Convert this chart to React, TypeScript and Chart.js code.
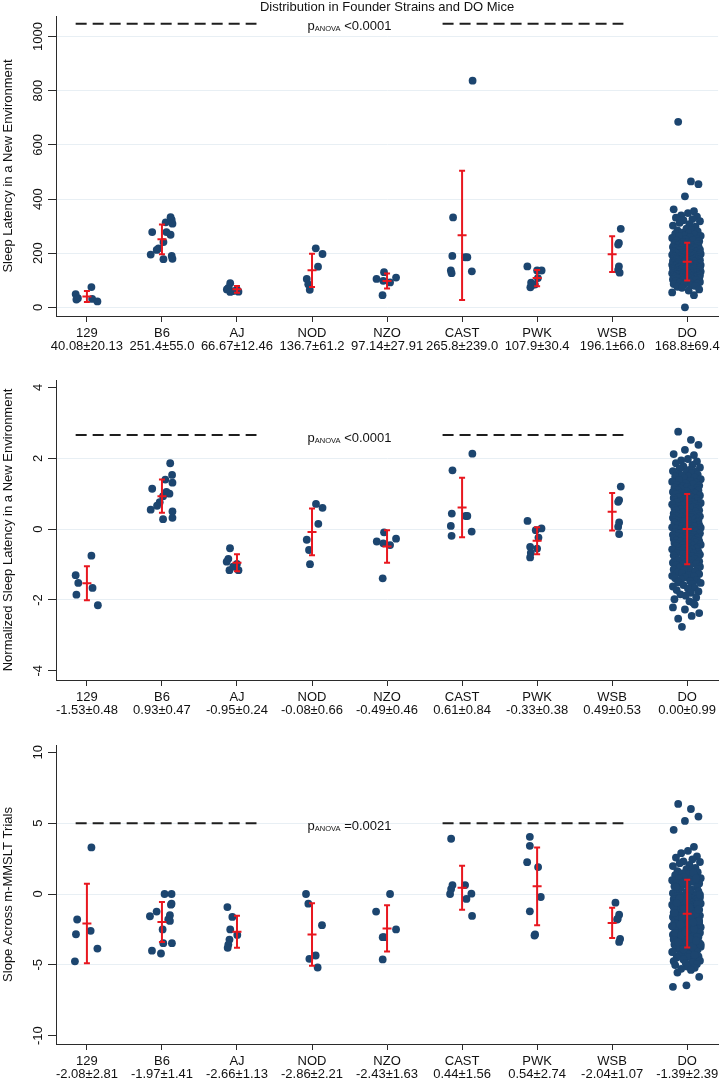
import React, { useEffect, useRef } from 'react';
import { Chart, registerables } from 'chart.js';
Chart.register(...registerables);

const FONT = '"Liberation Sans", Arial, sans-serif';
const NAVY = '#1c456f';
const RED = '#e8171f';
const INK = '#111111';
const AXIS = '#2b2b2b';
const GRID = '#e8eff4';

const STRAINS = ['129', 'B6', 'AJ', 'NOD', 'NZO', 'CAST', 'PWK', 'WSB', 'DO'];
const TITLE = 'Distribution in Founder Strains and DO Mice';

// ---------- summary statistics (mean ± SD) ----------
const LAT_STATS = ['40.08±20.13', '251.4±55.0', '66.67±12.46', '136.7±61.2', '97.14±27.91', '265.8±239.0', '107.9±30.4', '196.1±66.0', '168.8±69.4'];
const LAT_MEAN = [40.08, 251.4, 66.67, 136.7, 97.14, 265.8, 107.9, 196.1, 168.8];
const LAT_SD = [20.13, 55.0, 12.46, 61.2, 27.91, 239.0, 30.4, 66.0, 69.4];

const NORM_STATS = ['-1.53±0.48', '0.93±0.47', '-0.95±0.24', '-0.08±0.66', '-0.49±0.46', '0.61±0.84', '-0.33±0.38', '0.49±0.53', '0.00±0.99'];
const NORM_MEAN = [-1.53, 0.93, -0.95, -0.08, -0.49, 0.61, -0.33, 0.49, 0.0];
const NORM_SD = [0.48, 0.47, 0.24, 0.66, 0.46, 0.84, 0.38, 0.53, 0.99];

const SLOPE_STATS = ['-2.08±2.81', '-1.97±1.41', '-2.66±1.13', '-2.86±2.21', '-2.43±1.63', '0.44±1.56', '0.54±2.74', '-2.04±1.07', '-1.39±2.39'];
const SLOPE_MEAN = [-2.08, -1.97, -2.66, -2.86, -2.43, 0.44, 0.54, -2.04, -1.39];
const SLOPE_SD = [2.81, 1.41, 1.13, 2.21, 1.63, 1.56, 2.74, 1.07, 2.39];

// ---------- axis ticks ----------
const LAT_TICKS = [0, 200, 400, 600, 800, 1000];
const NORM_TICKS = [-4, -2, 0, 2, 4];
const SLOPE_TICKS = [-10, -5, 0, 5, 10];

// ---------- DO mice (jitter offsets shared) ----------
const DO_JITTER = [
  -0.12, 0.05, 0.15, -0.03, -0.18, 0.09, 0.01, -0.08, 0.13, -0.15, 0.07, -0.05, 0.17, -0.10, 0.03, -0.19, 0.11, -0.01, 0.06, -0.13,
  0.14, -0.07, 0.02, -0.16, 0.10, -0.04, 0.18, -0.11, 0.04, -0.20, 0.12, -0.02, 0.08, -0.14, 0.16, -0.06, 0.00, -0.17, 0.13, -0.09,
  0.05, -0.13, 0.15, -0.01, -0.19, 0.09, -0.08, 0.11, -0.15, 0.03, 0.17, -0.05, -0.11, 0.07, -0.18, 0.12, -0.03, 0.01, -0.16, 0.14,
  -0.10, 0.06, -0.14, 0.18, -0.02, 0.10, -0.20, 0.04, -0.07, 0.15, -0.12, 0.02, 0.08, -0.17, 0.13, -0.04, -0.09, 0.16, -0.15, 0.00,
  0.11, -0.06, 0.03, -0.18, 0.14, -0.11, 0.07, -0.01, -0.14, 0.17, 0.05, -0.08, -0.19, 0.12, -0.03, 0.09, -0.16, 0.01, 0.15, -0.12,
  -0.05, 0.13, -0.17, 0.08, 0.02, -0.10, 0.16, -0.13, 0.04, -0.07, 0.10, -0.20, 0.18, -0.02, -0.15, 0.06, -0.09, 0.14, -0.04, 0.11,
  0.00, -0.16, 0.12, -0.06, 0.17, -0.11, 0.03, -0.19, 0.09, -0.01, -0.13, 0.15, 0.05, -0.08, 0.13, -0.18, 0.07, -0.03, 0.10, -0.14,
  0.16, -0.09, -0.02, 0.11, -0.17, 0.04, -0.12, 0.18, -0.06, 0.08, -0.15, 0.01, 0.14, -0.10, -0.04, 0.12, -0.20, 0.06, -0.07, 0.02,
  -0.11, 0.15, 0.03, -0.14, 0.09, -0.05, 0.17, -0.18, 0.07, -0.02, 0.13, -0.16, 0.00, 0.10, -0.08, 0.05, -0.13, 0.16, -0.01, -0.19,
  0.08, 0.12, -0.06, -0.15, 0.03, 0.17, -0.10, -0.01, 0.14, -0.18, -0.04, 0.06, 0.11, -0.13, -0.07, 0.16, 0.02, -0.20, 0.09, -0.03,
  -0.16, -0.08, 0.13, 0.04, -0.12, 0.18, 0.07, -0.05, -0.19, 0.10, 0.01, -0.14, 0.15, 0.05, -0.09, -0.02, 0.12, -0.17, 0.03, 0.08,
  0.10, -0.19, -0.03, 0.16, 0.06, -0.12, -0.07, 0.13, 0.00, -0.15, 0.17, 0.09, -0.06, -0.11, 0.04, 0.14, -0.18, -0.01, 0.11, -0.08,
  -0.02, 0.15, -0.14, -0.09, 0.12, 0.02, -0.17, 0.07, 0.18, -0.05, -0.12, 0.10, -0.20, 0.05, 0.16, -0.07, 0.01, 0.13, -0.15, 0.09,
  0.13, -0.04, 0.06, -0.18, -0.10, 0.15, 0.03, -0.13, 0.09, 0.17, -0.08, -0.01, 0.11, -0.16, 0.07, -0.11, 0.18, -0.06, 0.02, -0.14,
];

const DO_LAT = [
  685, 465, 455, 410, 362, 355, 348, 340, 335, 331, 326, 322, 318, 312, 307, 302, 298, 291, 286, 284,
  280, 276, 274, 271, 268, 265, 264, 262, 259, 256, 253, 251, 248, 246, 244, 241, 239, 236, 234, 232,
  230, 228, 226, 224, 223, 221, 220, 218, 217, 215, 213, 212, 210, 209, 207, 206, 205, 204, 203, 201,
  200, 199, 198, 197, 196, 195, 194, 193, 192, 191, 190, 189, 188, 187, 186, 186, 185, 184, 183, 182,
  181, 180, 180, 179, 178, 177, 176, 176, 175, 174, 173, 172, 171, 171, 170, 169, 168, 168, 167, 166,
  165, 164, 164, 163, 162, 161, 161, 160, 159, 158, 158, 157, 156, 155, 155, 154, 153, 152, 152, 151,
  150, 150, 149, 148, 147, 147, 146, 145, 145, 144, 143, 143, 142, 141, 141, 140, 139, 139, 138, 137,
  137, 136, 135, 135, 134, 133, 133, 132, 131, 131, 130, 129, 129, 128, 127, 127, 126, 125, 124, 124,
  123, 122, 121, 121, 120, 119, 118, 117, 116, 115, 114, 113, 112, 111, 110, 109, 108, 106, 104, 103,
  102, 100, 99, 98, 96, 94, 92, 90, 88, 86, 84, 82, 79, 76, 72, 66, 62, 55, 45, 0,
];

const DO_NORM = [
  2.75, 2.52, 2.38, 2.24, 2.12, 2.09, 1.98, 1.94, 1.91, 1.86, 1.81, 1.77, 1.74, 1.71, 1.67, 1.64, 1.62, 1.6, 1.58, 1.55,
  1.54, 1.52, 1.49, 1.48, 1.45, 1.43, 1.41, 1.38, 1.36, 1.34, 1.31, 1.29, 1.27, 1.25, 1.23, 1.21, 1.19, 1.17, 1.16, 1.14,
  1.12, 1.1, 1.09, 1.07, 1.05, 1.03, 1.02, 1.0, 0.98, 0.96, 0.95, 0.93, 0.91, 0.89, 0.88, 0.86, 0.85, 0.83, 0.82, 0.8,
  0.79, 0.77, 0.76, 0.74, 0.73, 0.71, 0.7, 0.68, 0.66, 0.65, 0.64, 0.62, 0.61, 0.59, 0.58, 0.56, 0.55, 0.53, 0.52, 0.5,
  0.49, 0.47, 0.46, 0.44, 0.43, 0.41, 0.4, 0.39, 0.37, 0.36, 0.34, 0.33, 0.32, 0.3, 0.29, 0.27, 0.26, 0.25, 0.23, 0.22,
  0.21, 0.19, 0.18, 0.16, 0.15, 0.14, 0.12, 0.11, 0.09, 0.08, 0.07, 0.05, 0.04, 0.02, 0.01, 0.0, -0.01, -0.03, -0.04, -0.05,
  -0.07, -0.08, -0.09, -0.11, -0.12, -0.13, -0.15, -0.16, -0.17, -0.19, -0.2, -0.22, -0.23, -0.24, -0.26, -0.27, -0.28, -0.3, -0.31, -0.32,
  -0.34, -0.35, -0.37, -0.38, -0.39, -0.41, -0.42, -0.44, -0.45, -0.47, -0.48, -0.5, -0.51, -0.53, -0.54, -0.55, -0.57, -0.58, -0.6, -0.61,
  -0.63, -0.64, -0.66, -0.68, -0.69, -0.71, -0.72, -0.74, -0.76, -0.77, -0.79, -0.81, -0.82, -0.84, -0.86, -0.88, -0.89, -0.91, -0.93, -0.95,
  -0.97, -0.98, -1.0, -1.02, -1.04, -1.06, -1.08, -1.1, -1.12, -1.14, -1.16, -1.18, -1.2, -1.22, -1.25, -1.27, -1.29, -1.32, -1.34, -1.36,
  -1.39, -1.41, -1.44, -1.47, -1.5, -1.52, -1.55, -1.58, -1.62, -1.65, -1.68, -1.72, -1.76, -1.8, -1.84, -1.88, -1.93, -1.98, -2.04, -2.08,
  -2.13, -2.21, -2.27, -2.37, -2.45, -2.53, -2.76,
];

const DO_SLOPE = [
  6.36, 6.0, 5.47, 5.16, 4.53, 3.33, 3.05, 2.88, 2.65, 2.57, 2.45, 2.31, 2.26, 2.18, 2.05, 1.97, 1.85, 1.75, 1.67, 1.62,
  1.54, 1.46, 1.38, 1.33, 1.28, 1.19, 1.12, 1.08, 1.02, 0.97, 0.94, 0.92, 0.85, 0.78, 0.74, 0.67, 0.63, 0.55, 0.48, 0.41,
  0.32, 0.29, 0.18, 0.15, 0.06, -0.02, -0.11, -0.14, -0.18, -0.19, -0.24, -0.28, -0.29, -0.33, -0.36, -0.39, -0.42, -0.45, -0.48, -0.52,
  -0.55, -0.59, -0.61, -0.67, -0.7, -0.73, -0.75, -0.81, -0.83, -0.86, -0.88, -0.94, -0.97, -1.02, -1.03, -1.04, -1.08, -1.12, -1.15, -1.18,
  -1.21, -1.26, -1.27, -1.31, -1.35, -1.37, -1.43, -1.45, -1.48, -1.52, -1.58, -1.58, -1.62, -1.63, -1.67, -1.69, -1.74, -1.79, -1.82, -1.85,
  -1.87, -1.91, -1.96, -1.98, -2.01, -2.04, -2.05, -2.11, -2.16, -2.18, -2.23, -2.28, -2.34, -2.36, -2.39, -2.42, -2.47, -2.52, -2.54, -2.58,
  -2.61, -2.62, -2.66, -2.71, -2.73, -2.79, -2.82, -2.87, -2.92, -2.95, -2.99, -3.02, -3.06, -3.12, -3.15, -3.21, -3.25, -3.28, -3.31, -3.36,
  -3.44, -3.48, -3.49, -3.54, -3.57, -3.63, -3.68, -3.72, -3.77, -3.81, -3.83, -3.85, -3.91, -3.94, -3.97, -4.05, -4.09, -4.18, -4.22, -4.27,
  -4.36, -4.4, -4.44, -4.49, -4.58, -4.62, -4.71, -4.74, -4.83, -4.88, -4.95, -5.02, -5.12, -5.21, -5.28, -5.36, -5.55, -5.85, -6.45, -6.55,
  1.5, 1.1, 0.8, 0.5, 0.2, -0.05, -0.3, -0.5, -0.7, -0.9, -1.05, -1.2, -1.4, -1.55, -1.7, -1.9, -2.08, -2.25, -2.45, -2.6,
  -2.75, -2.9, -3.05, -3.2, -3.4, -3.55, -3.7, -3.9, -4.1, -4.3, -0.15, -0.62, -1.1, -1.6, -2.15, -2.7, -3.3, -1.33, -0.95, -2.0,
];

// ---------- founder strains: values and jitter offsets ----------
const LAT_VALUES = [
  [75, 49, 34, 31, 29, 22],
  [333, 323, 314, 309, 278, 278, 268, 241, 218, 212, 195, 178, 190, 179],
  [89, 72, 66, 57, 60, 58, 65],
  [218, 197, 150, 105, 85, 65],
  [130, 105, 98, 92, 110, 45],
  [837, 332, 190, 185, 185, 136, 126, 133],
  [151, 136, 136, 91, 74, 83, 84, 108],
  [290, 238, 232, 151, 138, 128],
  DO_LAT,
];
const LAT_JITTER = [
  [0.06, -0.15, -0.12, 0.07, -0.14, 0.14],
  [0.115, 0.13, 0.05, 0.14, -0.13, 0.06, 0.115, 0.02, -0.045, -0.07, -0.15, 0.02, 0.13, 0.14],
  [-0.09, -0.115, -0.135, -0.09, -0.05, 0.02, 0.0],
  [0.05, 0.14, 0.08, -0.07, -0.05, -0.03],
  [-0.04, -0.14, -0.05, 0.04, 0.12, -0.06],
  [0.14, -0.12, -0.13, 0.04, 0.07, -0.15, -0.14, 0.13],
  [-0.13, 0.0, 0.06, -0.08, -0.09, -0.06, -0.03, 0.01],
  [0.115, 0.09, 0.08, 0.09, 0.08, 0.1],
  DO_JITTER,
];

const NORM_VALUES = [
  [-0.75, -1.3, -1.52, -1.66, -1.85, -2.15],
  [1.86, 1.53, 1.4, 1.31, 1.14, 1.05, 1.0, 0.93, 0.76, 0.66, 0.55, 0.28, 0.5, 0.32],
  [-0.54, -0.84, -0.92, -1.16, -1.06, -1.16, -0.98],
  [0.71, 0.6, 0.15, -0.3, -0.59, -0.99],
  [-0.09, -0.35, -0.4, -0.45, -0.27, -1.39],
  [2.13, 1.66, 0.44, 0.37, 0.37, 0.09, -0.19, -0.07],
  [0.23, -0.03, 0.02, -0.24, -0.5, -0.67, -0.8, -0.55],
  [1.2, 0.82, 0.77, 0.19, 0.07, -0.14],
  DO_NORM,
];
const NORM_JITTER = [
  [0.06, -0.15, -0.115, 0.075, -0.14, 0.146],
  [0.11, 0.135, 0.045, 0.14, -0.13, 0.06, 0.1, 0.015, -0.03, -0.065, -0.15, 0.015, 0.14, 0.14],
  [-0.093, -0.115, -0.137, -0.1, -0.05, 0.02, 0.0],
  [0.053, 0.14, 0.084, -0.07, -0.04, -0.027],
  [-0.04, -0.137, -0.05, 0.04, 0.12, -0.058],
  [0.137, -0.128, -0.137, 0.049, 0.07, -0.15, -0.14, 0.128],
  [-0.128, -0.018, 0.058, 0.018, -0.093, -0.084, -0.093, 0.0],
  [0.115, 0.093, 0.08, 0.093, 0.08, 0.093],
  DO_JITTER,
];

const SLOPE_VALUES = [
  [3.29, -1.8, -2.84, -2.6, -3.85, -4.75],
  [0, 0, -0.68, -0.75, -1.24, -1.57, -1.5, -1.8, -1.9, -2.5, -3.47, -3.47, -4.0, -4.2],
  [-0.92, -1.62, -2.89, -3.22, -3.57, -3.8, -2.5],
  [0, -0.68, -2.2, -4.34, -4.58, -5.19],
  [0, -1.24, -2.5, -3.05, -3.05, -4.62],
  [3.9, 0.63, 0.35, 0, 0.63, 0.02, -0.35, -1.55],
  [4.04, 3.4, 2.25, 1.9, -0.21, -1.22, -2.86, -2.93],
  [-0.61, -1.46, -1.74, -1.8, -3.17, -3.38],
  DO_SLOPE,
];
const SLOPE_JITTER = [
  [0.06, -0.13, -0.146, 0.05, 0.14, -0.16],
  [0.035, 0.128, 0.128, 0.12, -0.071, -0.16, 0.106, 0.084, 0.106, 0.009, 0.018, 0.133, -0.133, -0.013],
  [-0.128, -0.062, 0.004, -0.1, -0.115, -0.124, -0.09],
  [-0.08, -0.049, 0.133, 0.049, -0.035, 0.075],
  [0.04, -0.146, 0.12, -0.058, -0.04, -0.058],
  [-0.146, -0.128, -0.146, -0.16, 0.04, 0.124, 0.058, 0.133],
  [-0.097, -0.097, -0.133, 0.013, 0.049, -0.097, -0.027, -0.035],
  [0.044, 0.093, 0.075, 0.066, 0.106, 0.093],
  DO_JITTER,
];

// dashed reference segments (category units) and p-value placement
const DASH_LEFT = [-0.15, 2.26];
const DASH_RIGHT = [4.74, 7.15];
const P_X = 3.5;

type Spec = {
  height: number;
  padTop: number;
  xAxisH: number;
  yMin: number;
  yMax: number;
  yTicks: number[];
  gridHidden: number[];
  yTitle: string;
  values: number[][];
  jitter: number[][];
  means: number[];
  sds: number[];
  stats: string[];
  dashY: number;
  pText: string;
  title?: string;
};

function Panel({ spec }: { spec: Spec }) {
  const ref = useRef<HTMLCanvasElement | null>(null);
  useEffect(() => {
    const canvas = ref.current;
    if (!canvas) return;
    const points = spec.values.flatMap((arr, i) => arr.map((v, k) => ({ x: i + spec.jitter[i][k], y: v })));

    const overlay = {
      id: 'overlay',
      afterDraw(chart: any) {
        const ctx: CanvasRenderingContext2D = chart.ctx;
        const xs = chart.scales.x;
        const ys = chart.scales.y;
        const area = chart.chartArea;
        ctx.save();
        // error bars (mean ± SD)
        ctx.strokeStyle = RED;
        ctx.lineWidth = 2;
        ctx.lineCap = 'butt';
        spec.means.forEach((m, i) => {
          const px = xs.getPixelForValue(i);
          const lo = ys.getPixelForValue(m - spec.sds[i]);
          const hi = ys.getPixelForValue(m + spec.sds[i]);
          const pm = ys.getPixelForValue(m);
          ctx.beginPath();
          ctx.moveTo(px, lo);
          ctx.lineTo(px, hi);
          ctx.moveTo(px - 3, lo);
          ctx.lineTo(px + 3, lo);
          ctx.moveTo(px - 3, hi);
          ctx.lineTo(px + 3, hi);
          ctx.moveTo(px - 4.5, pm);
          ctx.lineTo(px + 4.5, pm);
          ctx.stroke();
        });

        ctx.fillStyle = INK;
        // p-value text
        const big = `13px ${FONT}`;
        const small = `7.5px ${FONT}`;
        const rest = ' ' + spec.pText;
        ctx.font = big;
        const wp = ctx.measureText('p').width;
        const wr = ctx.measureText(rest).width;
        ctx.font = small;
        const wa = ctx.measureText('ANOVA').width;
        let tx = xs.getPixelForValue(P_X) - (wp + wa + wr) / 2;
        const base = ys.getPixelForValue(spec.dashY) + 6.5;
        ctx.textAlign = 'left';
        ctx.textBaseline = 'alphabetic';
        ctx.font = big;
        ctx.fillText('p', tx, base);
        tx += wp;
        ctx.font = small;
        ctx.fillText('ANOVA', tx, base + 1);
        tx += wa;
        ctx.font = big;
        ctx.fillText(rest, tx, base);

        // x labels
        ctx.textAlign = 'center';
        STRAINS.forEach((s, i) => {
          const px = xs.getPixelForValue(i);
          ctx.fillText(s, px, area.bottom + 20.5);
          ctx.fillText(spec.stats[i], px, area.bottom + 33.5);
        });

        // y tick labels (rotated)
        spec.yTicks.forEach((v) => {
          ctx.save();
          ctx.translate(42, ys.getPixelForValue(v));
          ctx.rotate(-Math.PI / 2);
          ctx.textAlign = 'center';
          ctx.fillText(String(v), 0, 0);
          ctx.restore();
        });

        // y title
        ctx.save();
        ctx.translate(11.5, (area.top + area.bottom) / 2);
        ctx.rotate(-Math.PI / 2);
        ctx.textAlign = 'center';
        ctx.fillText(spec.yTitle, 0, 0);
        ctx.restore();

        if (spec.title) {
          ctx.textAlign = 'center';
          ctx.fillText(spec.title, (area.left + area.right) / 2, 11);
        }
        ctx.restore();
      },
    };

    const dashDs = (seg: number[]) => ({
      type: 'line' as const,
      data: [
        { x: seg[0], y: spec.dashY },
        { x: seg[1], y: spec.dashY },
      ],
      borderColor: '#1e1e1e',
      borderWidth: 2,
      borderDash: [11, 6],
      pointRadius: 0,
      showLine: true,
      fill: false,
    });

    const chart = new Chart(canvas, {
      type: 'scatter',
      data: {
        datasets: [
          {
            type: 'scatter',
            data: points,
            pointRadius: 3.9,
            pointBackgroundColor: NAVY,
            pointBorderColor: NAVY,
            pointBorderWidth: 0,
            pointHoverRadius: 3.9,
          } as any,
          dashDs(DASH_LEFT) as any,
          dashDs(DASH_RIGHT) as any,
        ],
      },
      options: {
        animation: false,
        responsive: false,
        devicePixelRatio: 1,
        events: [],
        layout: { padding: { top: spec.padTop, left: 0, right: 2, bottom: 0 } },
        plugins: { legend: { display: false }, tooltip: { enabled: false }, title: { display: false } },
        scales: {
          x: {
            type: 'linear',
            min: -0.412,
            max: 8.412,
            afterBuildTicks: (s: any) => {
              s.ticks = STRAINS.map((_, i) => ({ value: i }));
            },
            afterFit: (s: any) => {
              s.height = spec.xAxisH;
            },
            ticks: { display: false },
            grid: { drawOnChartArea: false, drawTicks: true, tickLength: 6, color: AXIS, tickColor: AXIS, lineWidth: 1 },
            border: { display: true, color: AXIS, width: 1 },
          },
          y: {
            type: 'linear',
            min: spec.yMin,
            max: spec.yMax,
            afterBuildTicks: (s: any) => {
              s.ticks = spec.yTicks.map((v) => ({ value: v }));
            },
            afterFit: (s: any) => {
              s.width = 56;
            },
            ticks: { display: false },
            grid: {
              color: (c: any) => (spec.gridHidden.includes(c.tick?.value) ? 'rgba(0,0,0,0)' : GRID),
              tickColor: AXIS,
              tickLength: 8,
              drawTicks: true,
              lineWidth: 1,
            },
            border: { display: true, color: AXIS, width: 1 },
          },
        },
      },
      plugins: [overlay],
    } as any);
    return () => chart.destroy();
  }, [spec]);
  return <canvas ref={ref} width={722} height={spec.height} style={{ display: 'block', width: 722, height: spec.height }} />;
}

const SPECS: Spec[] = [
  {
    height: 356, padTop: 16, xAxisH: 40, yMin: -32, yMax: 1076, yTicks: LAT_TICKS, gridHidden: [],
    yTitle: 'Sleep Latency in a New Environment', values: LAT_VALUES, jitter: LAT_JITTER,
    means: LAT_MEAN, sds: LAT_SD, stats: LAT_STATS, dashY: 1047, pText: '<0.0001', title: TITLE,
  },
  {
    height: 360, padTop: 24, xAxisH: 36, yMin: -4.26, yMax: 4.21, yTicks: NORM_TICKS, gridHidden: [-4, 4],
    yTitle: 'Normalized Sleep Latency in a New Environment', values: NORM_VALUES, jitter: NORM_JITTER,
    means: NORM_MEAN, sds: NORM_SD, stats: NORM_STATS, dashY: 2.655, pText: '<0.0001',
  },
  {
    height: 363, padTop: 29, xAxisH: 35, yMin: -10.59, yMax: 10.52, yTicks: SLOPE_TICKS, gridHidden: [-10, 10],
    yTitle: 'Slope Across m-MMSLT Trials', values: SLOPE_VALUES, jitter: SLOPE_JITTER,
    means: SLOPE_MEAN, sds: SLOPE_SD, stats: SLOPE_STATS, dashY: 5.0, pText: '=0.0021',
  },
];

export default function App() {
  return (
    <div style={{ position: 'absolute', left: 0, top: 0, width: 722, height: 1079, background: '#ffffff', overflow: 'hidden' }}>
      {SPECS.map((s, i) => (
        <Panel key={i} spec={s} />
      ))}
    </div>
  );
}
